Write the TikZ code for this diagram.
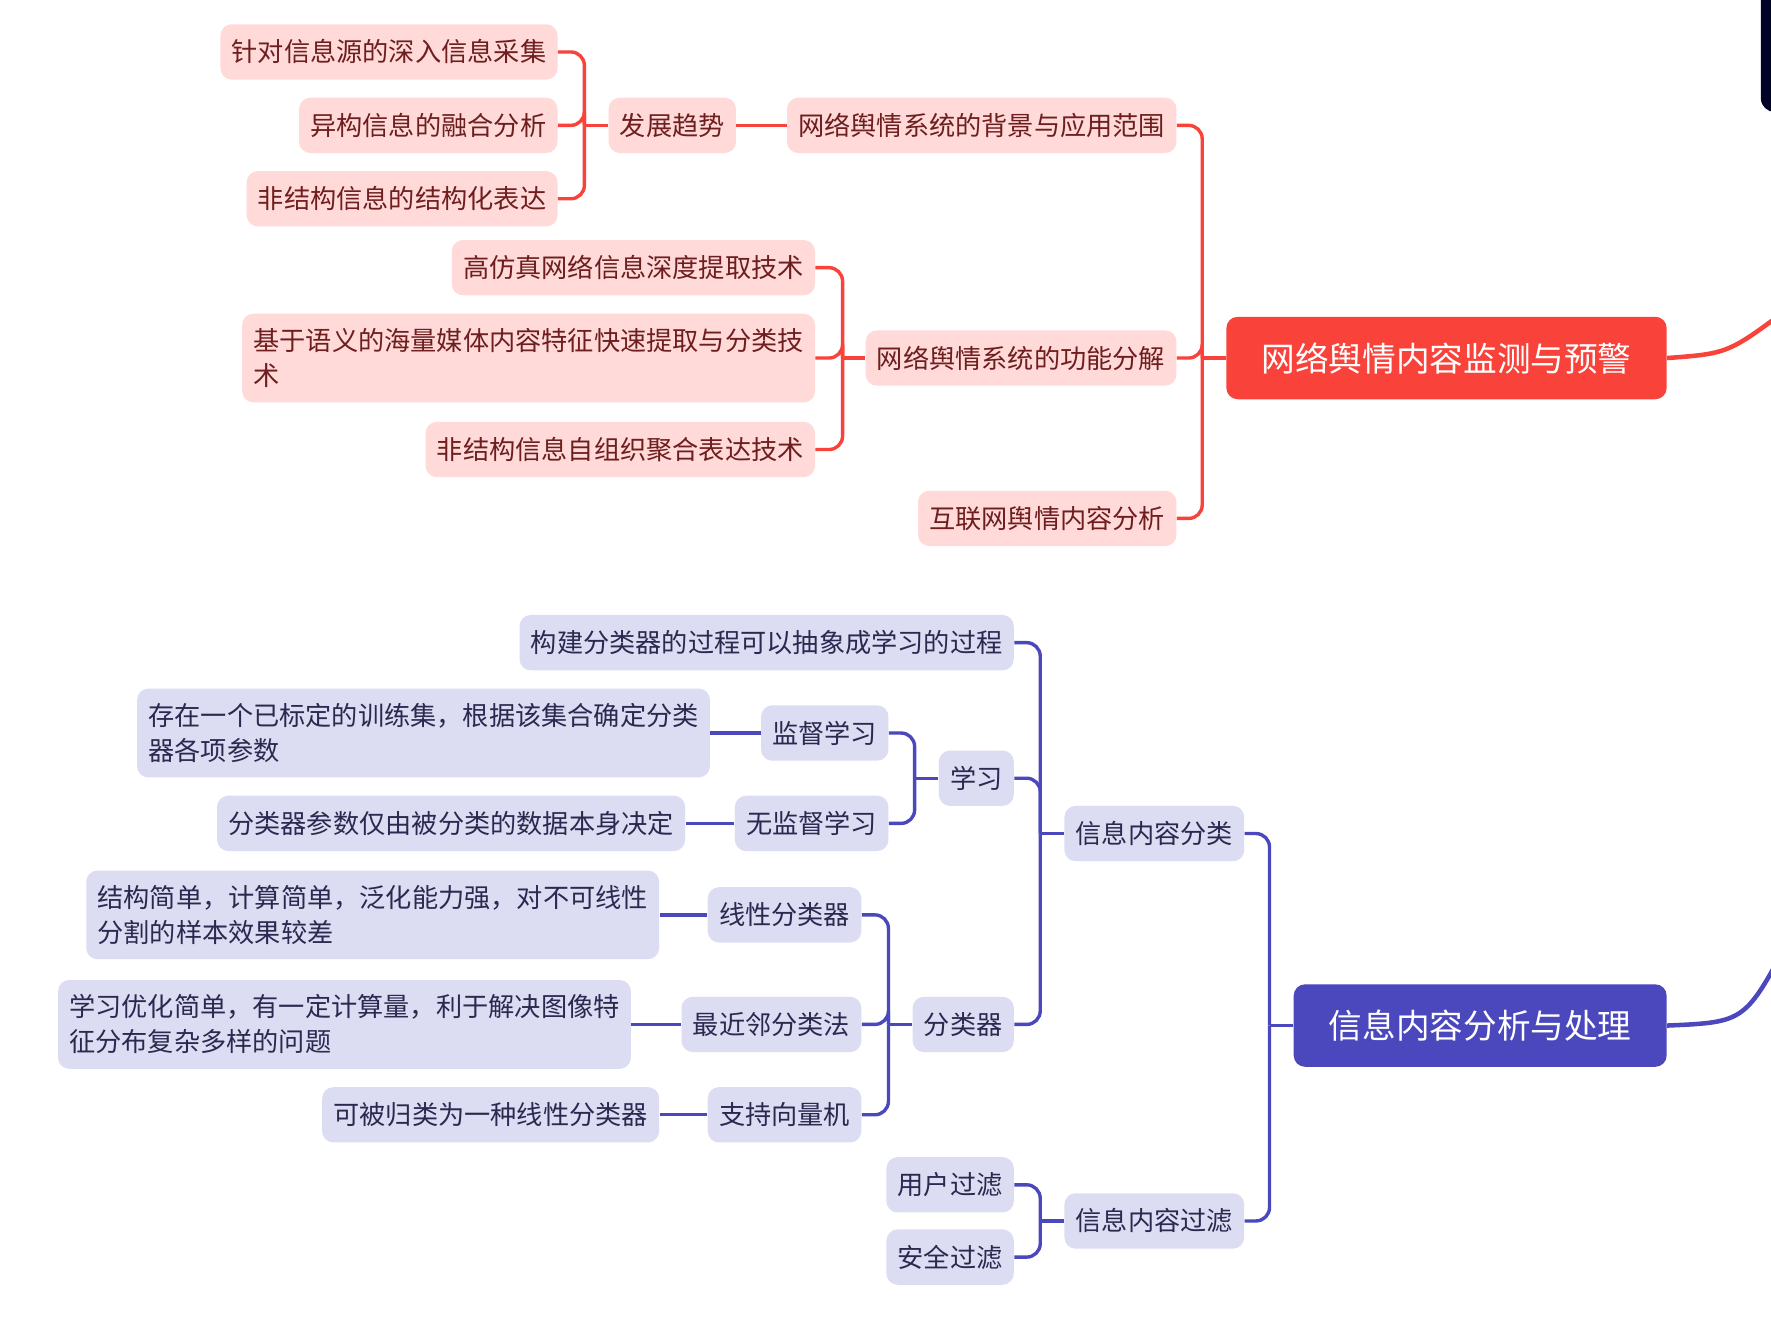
\documentclass[tikz,border=0pt]{standalone}
\usepackage{fontspec}
\setmainfont{Noto Sans CJK SC}
\usepackage{xcolor}

\definecolor{redmain}{HTML}{F9423A}
\definecolor{redlight}{HTML}{FFDAD9}
\definecolor{redtext}{HTML}{6E1E1E}
\definecolor{bluemain}{HTML}{4B48BE}
\definecolor{bluelight}{HTML}{DCDCF2}
\definecolor{bluetext}{HTML}{2A2950}
\definecolor{navy}{HTML}{000226}

\newcommand{\leaffont}{\fontsize{11.6}{15.5}\selectfont}
\newcommand{\rootfont}{\fontsize{14.9}{18}\selectfont}

\tikzset{
  leaf/.style={rounded corners=5pt, inner xsep=5pt, inner ysep=6.5pt, minimum height=24.5pt, anchor=east, align=left, font=\leaffont},
  redleaf/.style={leaf, fill=redlight, text=redtext},
  blueleaf/.style={leaf, fill=bluelight, text=bluetext},
  rootbox/.style={rounded corners=5pt, inner xsep=15.5pt, minimum height=36.5pt, anchor=east, font=\rootfont, text=white},
  redline/.style={draw=redmain, line width=1.5pt},
  blueline/.style={draw=bluemain, line width=1.5pt}
}

\begin{document}
\begin{tikzpicture}[x=0.5pt,y=-0.5pt]
  % Canvas
  \clip (0,0) rectangle (1568,1166);
  \fill[white] (0,0) rectangle (1568,1166);
  \fill[navy, rounded corners=6pt] (1559,-20) rectangle (1600,99);

  % Red branch
  \node[rootbox, fill=redmain] (rroot) at (1476,317) {网络舆情内容监测与预警};
  \node[redleaf] (bg) at (1042,111) {网络舆情系统的背景与应用范围};
  \node[redleaf] (gn) at (1042,317) {网络舆情系统的功能分解};
  \node[redleaf] (hl) at (1042,459) {互联网舆情内容分析};
  \node[redleaf] (qs) at (652,111) {发展趋势};
  \node[redleaf] (qs1) at (494,46) {针对信息源的深入信息采集};
  \node[redleaf] (qs2) at (494,111) {异构信息的融合分析};
  \node[redleaf] (qs3) at (494,176) {非结构信息的结构化表达};
  \node[redleaf] (gn1) at (722,237) {高仿真网络信息深度提取技术};
  \node[redleaf] (gn2) at (722,317) {基于语义的海量媒体内容特征快速提取与分类技\\术};
  \node[redleaf] (gn3) at (722,398) {非结构信息自组织聚合表达技术};

  % Red connectors
  \draw[redmain, line width=2pt] (rroot.east) .. controls (1530,313) .. (1585,272);
  \draw[redline] (rroot.west) -- ++(-21,0) coordinate (rj);
  \foreach \kid in {bg,gn,hl}
    \draw[redline, rounded corners=6pt] (rj) |- (\kid.east);
  \draw[redline] (bg.west) -- (qs.east);
  \draw[redline] (qs.west) -- ++(-21,0) coordinate (qj);
  \foreach \kid in {qs1,qs2,qs3}
    \draw[redline, rounded corners=6pt] (qj) |- (\kid.east);
  \draw[redline] (gn.west) -- ++(-20,0) coordinate (gj);
  \foreach \kid in {gn1,gn2,gn3}
    \draw[redline, rounded corners=6pt] (gj) |- (\kid.east);

  % Blue branch
  \node[rootbox, fill=bluemain] (broot) at (1476,908) {信息内容分析与处理};
  \node[blueleaf] (fl) at (1102,738) {信息内容分类};
  \node[blueleaf] (gl) at (1102,1081) {信息内容过滤};
  \node[blueleaf] (fl1) at (898,569) {构建分类器的过程可以抽象成学习的过程};
  \node[blueleaf] (xx) at (898,689) {学习};
  \node[blueleaf] (flq) at (898,907) {分类器};
  \node[blueleaf] (jd) at (787,649) {监督学习};
  \node[blueleaf] (wjd) at (787,729) {无监督学习};
  \node[blueleaf] (jdt) at (629,649) {存在一个已标定的训练集，根据该集合确定分类\\器各项参数};
  \node[blueleaf] (wjdt) at (607,729) {分类器参数仅由被分类的数据本身决定};
  \node[blueleaf] (xf) at (763,810) {线性分类器};
  \node[blueleaf] (zj) at (763,907) {最近邻分类法};
  \node[blueleaf] (zc) at (763,987) {支持向量机};
  \node[blueleaf] (xft) at (584,810) {结构简单，计算简单，泛化能力强，对不可线性\\分割的样本效果较差};
  \node[blueleaf] (zjt) at (559,907) {学习优化简单，有一定计算量，利于解决图像特\\征分布复杂多样的问题};
  \node[blueleaf] (zct) at (584,987) {可被归类为一种线性分类器};
  \node[blueleaf] (yh) at (898,1049) {用户过滤};
  \node[blueleaf] (aq) at (898,1113) {安全过滤};

  % Blue connectors
  \draw[bluemain, line width=2pt] (broot.east) .. controls (1545,905) .. (1585,830);
  \draw[blueline] (broot.west) -- ++(-21,0) coordinate (bj);
  \foreach \kid in {fl,gl}
    \draw[blueline, rounded corners=6pt] (bj) |- (\kid.east);
  \draw[blueline] (fl.west) -- ++(-21,0) coordinate (fj);
  \foreach \kid in {fl1,xx,flq}
    \draw[blueline, rounded corners=6pt] (fj) |- (\kid.east);
  \draw[blueline] (xx.west) -- ++(-21,0) coordinate (xj);
  \foreach \kid in {jd,wjd}
    \draw[blueline, rounded corners=6pt] (xj) |- (\kid.east);
  \draw[blueline] (flq.west) -- ++(-21,0) coordinate (cj);
  \foreach \kid in {xf,zj,zc}
    \draw[blueline, rounded corners=6pt] (cj) |- (\kid.east);
  \draw[blueline] (gl.west) -- ++(-21,0) coordinate (lj);
  \foreach \kid in {yh,aq}
    \draw[blueline, rounded corners=6pt] (lj) |- (\kid.east);
  \draw[blueline] (jd.west) -- (jdt.east);
  \draw[blueline] (wjd.west) -- (wjdt.east);
  \draw[blueline] (xf.west) -- (xft.east);
  \draw[blueline] (zj.west) -- (zjt.east);
  \draw[blueline] (zc.west) -- (zct.east);
\end{tikzpicture}
\end{document}
